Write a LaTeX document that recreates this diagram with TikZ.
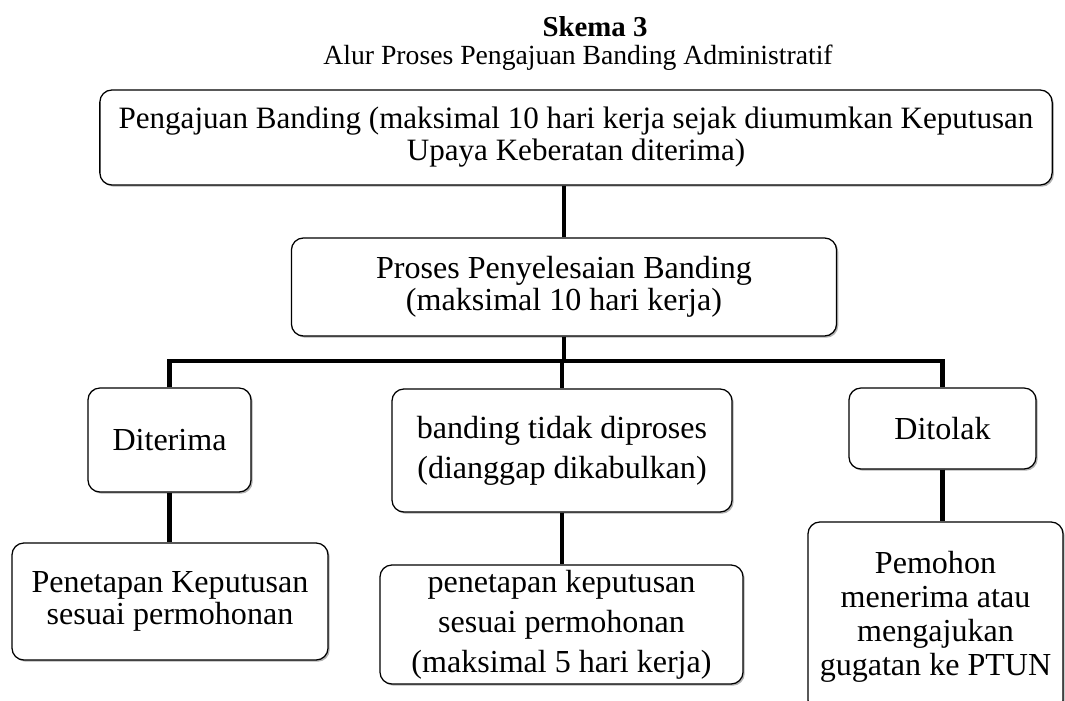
\documentclass[tikz,border=0pt]{standalone}
\usepackage{fontspec}
\setmainfont{Liberation Serif}
\usetikzlibrary{shadows}
\tikzset{
  box/.style={rectangle, draw, rounded corners=0.3cm, line width=0.9pt, fill=white, inner sep=0pt, align=center,
    font=\fontsize{22.8}{22.8}\selectfont,
    drop shadow={shadow xshift=1.2pt, shadow yshift=-1.2pt, fill=black, opacity=0.3}},
  link/.style={line width=3pt}
}
\begin{document}
\begin{tikzpicture}[x=0.025cm, y=-0.025cm]
    \useasboundingbox (0,0) rectangle (1065,700);
    \clip (0,0) rectangle (1065,700);
      \node[anchor=base, font=\fontsize{20.5}{20.5}\selectfont\bfseries] (title) at (595,36) {Skema 3};
      \node[anchor=base, font=\fontsize{19.7}{19.7}\selectfont] (subtitle) at (578,64) {Alur Proses Pengajuan Banding Administratif};
      \node[box, minimum width=23.8cm, minimum height=2.375cm, font=\fontsize{22.1}{22.8}\selectfont] (banding) at (576,137.5) {Pengajuan Banding (maksimal 10 hari kerja sejak diumumkan Keputusan\\Upaya Keberatan diterima)};
      \node[box, minimum width=13.625cm, minimum height=2.45cm] (proses) at (564,287) {Proses Penyelesaian Banding\\(maksimal 10 hari kerja)};
      \node[box, minimum width=4.075cm, minimum height=2.6cm] (diterima) at (169.5,440) {Diterima};
      \node[box, minimum width=8.5cm, minimum height=3.075cm, font=\fontsize{22.8}{28.5}\selectfont] (tidak) at (562,450.5) {banding tidak diproses\\(dianggap dikabulkan)};
      \node[box, minimum width=4.675cm, minimum height=2.025cm] (ditolak) at (942.5,428.5) {Ditolak};
      \node[box, minimum width=7.9cm, minimum height=2.925cm] (tetap) at (170,601.5) {Penetapan Keputusan\\sesuai permohonan};
      \node[box, minimum width=9.075cm, minimum height=2.975cm, font=\fontsize{22.8}{28.5}\selectfont] (sesuai) at (561.5,624.5) {penetapan keputusan\\sesuai permohonan\\(maksimal 5 hari kerja)};
      \node[box, minimum width=6.375cm, minimum height=4.75cm, font=\fontsize{22.8}{24.2}\selectfont] (pemohon) at (935.5,617) {Pemohon\\menerima atau\\mengajukan\\gugatan ke PTUN};

      \path (tidak.north) ++(0,-27) coordinate (split);
      \draw[link] (proses.north) -- (proses.north |- banding.south);
      \draw[link] (proses.south) -- (proses.south |- split);
      \draw[link] (diterima.north) |- (split) -| (ditolak.north);
      \draw[link] (split) -- (tidak.north);
      \foreach \source/\dest in {diterima/tetap, tidak/sesuai, ditolak/pemohon}
        \draw[link] (\source.south) -- (\source.south |- \dest.north);
    \end{tikzpicture}
\end{document}
